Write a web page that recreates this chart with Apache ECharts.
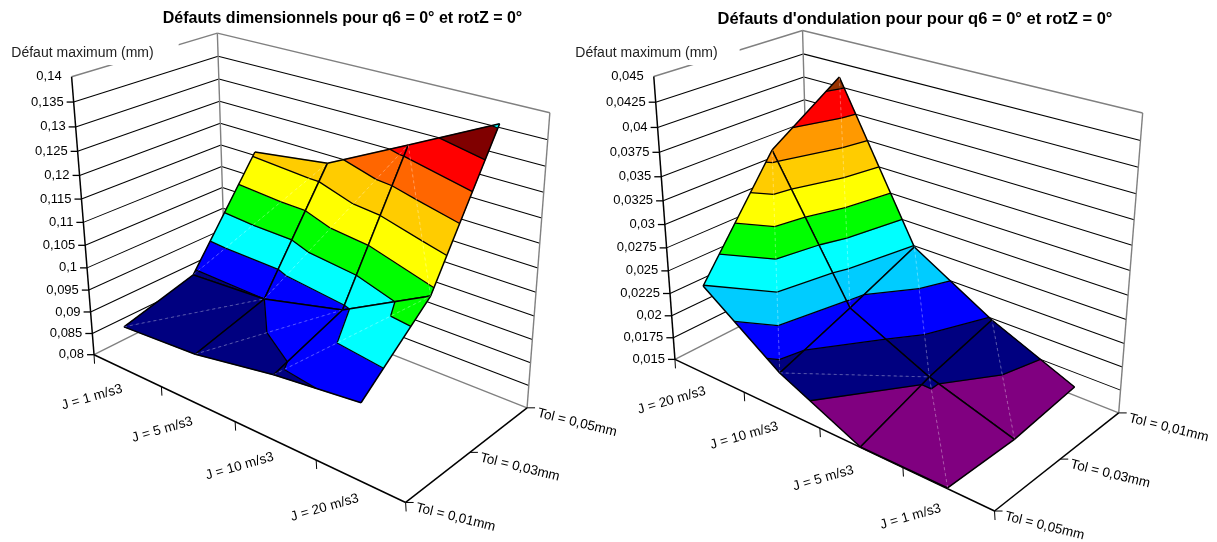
<!DOCTYPE html>
<html><head><meta charset="utf-8">
<script src="https://cdn.jsdelivr.net/npm/echarts@6/dist/echarts.min.js"></script>
<style>html,body{margin:0;padding:0;background:#fff}#c{width:1217px;height:542px}</style></head>
<body><div id="c"></div>
<script>
// ---------- data ----------
const leftTitle = "Défauts dimensionnels pour q6 = 0° et rotZ = 0°";
const rightTitle = "Défauts d'ondulation pour pour q6 = 0° et rotZ = 0°";
const valueAxisName = "Défaut maximum (mm)";

const leftJ = ["J = 1 m/s3", "J = 5 m/s3", "J = 10 m/s3", "J = 20 m/s3"];
const leftTol = ["Tol = 0,01mm", "Tol = 0,03mm", "Tol = 0,05mm"];
const leftTicks = ["0,08","0,085","0,09","0,095","0,1","0,105","0,11","0,115","0,12","0,125","0,13","0,135","0,14"];
const leftTol001 = [0.0900, 0.0910, 0.0940, 0.0960];
const leftTol003 = [0.0941, 0.0950, 0.0992, 0.1087];
const leftTol005 = [0.1158, 0.1182, 0.1269, 0.1357];
const leftBandEdges = [0.09,0.095,0.10,0.105,0.11,0.115,0.12,0.125,0.13,0.135,0.14];
const leftBandColors = ["#000080","#0000ff","#00ffff","#00ff00","#ffff00","#ffcc00","#ff6600","#ff0000","#800000","#00ffff"];

const rightJ = ["J = 20 m/s3", "J = 10 m/s3", "J = 5 m/s3", "J = 1 m/s3"];
const rightTol = ["Tol = 0,05mm", "Tol = 0,03mm", "Tol = 0,01mm"];
const rightTicks = ["0,015","0,0175","0,02","0,0225","0,025","0,0275","0,03","0,0325","0,035","0,0375","0,04","0,0425","0,045"];
const rightTol005 = [0.02494, 0.01903, 0.01504, 0.01508];
const rightTol003 = [0.03601, 0.02186, 0.01782, 0.01500];
const rightTol001 = [0.04102, 0.02487, 0.01982, 0.01592];
const rightBandEdges = [0.015,0.0175,0.02,0.0225,0.025,0.0275,0.03,0.0325,0.035,0.0375,0.04,0.0425];
const rightBandColors = ["#800080","#000080","#0000ff","#00ccff","#00ffff","#00ff00","#ffff00","#ffcc00","#ff9900","#ff0000","#993300"];

// ---------- view of each 3D box (projective camera) ----------
const FONT = '"Liberation Sans", Arial, sans-serif';
const charts = [
 { cam:[241.6137,154.89035,-28.976,94.04495,61.07303,-36.20732,-284.94279,354.70771,-0.17252,0.10325,-0.09128],
   J:leftJ, Tol:leftTol, ticks:leftTicks, rows:[leftTol001,leftTol003,leftTol005],
   edges:leftBandEdges, colors:leftBandColors, mainDiag:true, flip:["2,1"], nameX:93, nameY:53, namePad:[5,25,5,4], jDx:-35, jDy:[1,0,0,1] },
 { cam:[149.87471,218.18976,-79.39442,674.96068,64.43177,-38.82816,-289.6693,359.38674,-0.17064,0.103,-0.08904],
   J:rightJ, Tol:rightTol, ticks:rightTicks, rows:[rightTol005,rightTol003,rightTol001],
   edges:rightBandEdges, colors:rightBandColors, mainDiag:false, flip:["1,0"], nameX:655.5, nameY:53, namePad:[5,22,5,4], jDx:-37, jDy:[-1,0,5,2] }
];
charts.forEach(c=>{ c.lo=parseFloat(c.ticks[0].replace(',','.')); c.hi=parseFloat(c.ticks[c.ticks.length-1].replace(',','.')); });

function proj(c,u,v,w){ const p=c.cam, d=p[8]*u+p[9]*v+p[10]*w+1; return [(p[0]*u+p[1]*v+p[2]*w+p[3])/d,(p[4]*u+p[5]*v+p[6]*w+p[7])/d]; }
function depth(c,u,v,w){ const p=c.cam; return p[8]*u+p[9]*v+p[10]*w+1; }
function nodeUVW(c,i,k){ return [(i+0.5)/4, k/2, (c.rows[k][i]-c.lo)/(c.hi-c.lo)]; }

function line(api,a,b,color,width,dash){ const A=api.coord(a),B=api.coord(b);
  return {type:'line',silent:true,shape:{x1:A[0],y1:A[1],x2:B[0],y2:B[1]},style:{stroke:color,lineWidth:width,lineDash:dash||null,fill:null}}; }
function text(api,pos,str,o){ const P=api.coord(pos);
  return {type:'text',silent:true,x:P[0],y:P[1],rotation:o.rot||0,style:Object.assign({text:str,fill:'#000',fontFamily:FONT,fontSize:o.size||13,align:o.align||'center',verticalAlign:'middle'},o.extra||{})}; }

function triangles(c){
  const out=[];
  for(let k=0;k<2;k++)for(let i=0;i<3;i++){
    let main=c.mainDiag; if(c.flip.indexOf(i+','+k)>=0) main=!main;
    const a=[i,k],b=[i+1,k],d=[i+1,k+1],e=[i,k+1];
    if(main){ out.push([...a,...b,...d]); out.push([...a,...e,...d]); }
    else    { out.push([...b,...a,...e]); out.push([...b,...d,...e]); }
  }
  const dep=t=>{let s=0;for(let n=0;n<3;n++){const q=nodeUVW(c,t[2*n],t[2*n+1]);s+=depth(c,q[0],q[1],q[2]);}return s;};
  return out.sort((x,y)=>dep(y)-dep(x));
}
function clip(poly,t,keepAbove){
  const out=[];
  for(let n=0;n<poly.length;n++){
    const A=poly[n],B=poly[(n+1)%poly.length];
    const ina=keepAbove?A[2]>=t:A[2]<=t, inb=keepAbove?B[2]>=t:B[2]<=t;
    if(ina) out.push(A);
    if(ina!==inb){ const f=(t-A[2])/(B[2]-A[2]); out.push([A[0]+f*(B[0]-A[0]),A[1]+f*(B[1]-A[1]),t]); }
  }
  return out;
}
function surfaceItem(c,params,api){
  const idx=[0,1,2].map(n=>[api.value(2*n),api.value(2*n+1)]);
  const tri=idx.map(q=>{const m=nodeUVW(c,q[0],q[1]);return [m[0],m[1],c.rows[q[1]][q[0]]];});
  const P=q=>proj(c,q[0],q[1],(q[2]-c.lo)/(c.hi-c.lo));
  const children=[];
  c.colors.forEach((col,b)=>{
    let poly=clip(tri,c.edges[b],true);
    if(poly.length) poly=clip(poly,c.edges[b+1]!==undefined?c.edges[b+1]:c.hi,false);
    if(poly.length>=3) children.push({type:'polygon',silent:true,shape:{points:poly.map(q=>api.coord(P(q)))},style:{fill:col,stroke:col,lineWidth:0.7}});
  });
  // seam along the quad's diagonal
  children.push(line(api,P(tri[0]),P(tri[2]),'rgba(255,255,255,0.28)',1,[3,3]));
  // band borders
  c.edges.forEach(t=>{
    const pts=[];
    for(let n=0;n<3;n++){ const A=tri[n],B=tri[(n+1)%3];
      if((A[2]<t)!==(B[2]<t)){ const f=(t-A[2])/(B[2]-A[2]); pts.push([A[0]+f*(B[0]-A[0]),A[1]+f*(B[1]-A[1]),t]); } }
    if(pts.length===2) children.push(line(api,P(pts[0]),P(pts[1]),'#000',1.3));
  });
  // mesh lines
  children.push(line(api,P(tri[0]),P(tri[1]),'#000',1.5));
  children.push(line(api,P(tri[1]),P(tri[2]),'#000',1.5));
  return {type:'group',children};
}
function valueItem(c,params,api){
  const n=api.value(0), w=n/(c.ticks.length-1), last=n===c.ticks.length-1, first=n===0;
  const a=proj(c,0,0,w), d=proj(c,0,1,w), e=proj(c,1,1,w);
  const col=(first||last)?'#808080':'#000', lw=(first||last)?1.4:1.05;
  const ch=[line(api,a,d,col,lw),line(api,d,e,col,lw)];
  if(!last) ch.push(line(api,[a[0]-7,a[1]],a,'#000',1.3));
  ch.push(text(api,[a[0]-10,a[1]],c.ticks[n],{align:'right'}));
  return {type:'group',children:ch};
}
function boxItem(c,params,api){
  const A0=proj(c,0,0,0),A1=proj(c,0,0,1),D0=proj(c,0,1,0),D1=proj(c,0,1,1),B0=proj(c,1,0,0),C0=proj(c,1,1,0),C1=proj(c,1,1,1);
  return {type:'group',children:[
    line(api,D0,D1,'#808080',1.4),line(api,C0,C1,'#808080',1.4),
    text(api,[c.nameX,c.nameY],valueAxisName,{size:14,extra:{fill:'#222',backgroundColor:'#fff',padding:c.namePad}}),
    line(api,A0,A1,'#000',1.5),line(api,A0,B0,'#000',1.5),line(api,B0,C0,'#000',1.5)
  ]};
}
function jItem(c,params,api){
  const n=api.value(0);
  const t=proj(c,n/4,0,0), m=proj(c,(n+0.5)/4,0,0), ch=[];
  ch.push(line(api,t,[t[0]+0.5,t[1]+9],'#000',1));
  if(n===3){ const e=proj(c,1,0,0); ch.push(line(api,e,[e[0]+0.5,e[1]+9],'#000',1)); }
  ch.push(text(api,[m[0]+c.jDx,m[1]+26+c.jDy[n]],c.J[n],{size:13.5,rot:16*Math.PI/180}));
  return {type:'group',children:ch};
}
function tolItem(c,params,api){
  const n=api.value(0);
  const t=proj(c,1,n/2,0);
  return {type:'group',children:[
    line(api,t,[t[0]+8,t[1]],'#000',1),
    text(api,[t[0]+50,t[1]+15],c.Tol[n],{size:13.5,rot:-14*Math.PI/180})
  ]};
}
const series=[];
charts.forEach(c=>{
  const add=(data,fn)=>series.push({type:'custom',coordinateSystem:'cartesian2d',data,silent:true,clip:false,animation:false,
     encode:{x:0,y:1},renderItem:(p,a)=>fn(c,p,a)});
  add(c.ticks.map((_,i)=>[i,0]),valueItem);
  add([[0,0]],boxItem);
  add(c.J.map((_,i)=>[i,0]),jItem);
  add(c.Tol.map((_,i)=>[i,0]),tolItem);
  add(triangles(c),surfaceItem);
});
const chart=echarts.init(document.getElementById('c'),null,{renderer:'canvas'});
chart.setOption({
  animation:false, backgroundColor:'#fff',
  title:[
    {text:leftTitle,left:337.5,top:6,textAlign:'center',textStyle:{fontFamily:FONT,fontSize:16,fontWeight:'bold',color:'#000'}},
    {text:rightTitle,left:910,top:6,textAlign:'center',textStyle:{fontFamily:FONT,fontSize:16.5,fontWeight:'bold',color:'#000'}}
  ],
  grid:{left:0,right:0,top:0,bottom:0},
  xAxis:{type:'value',min:0,max:1217,show:false},
  yAxis:{type:'value',min:0,max:542,inverse:true,show:false},
  tooltip:{show:false},
  series
});
</script></body></html>
